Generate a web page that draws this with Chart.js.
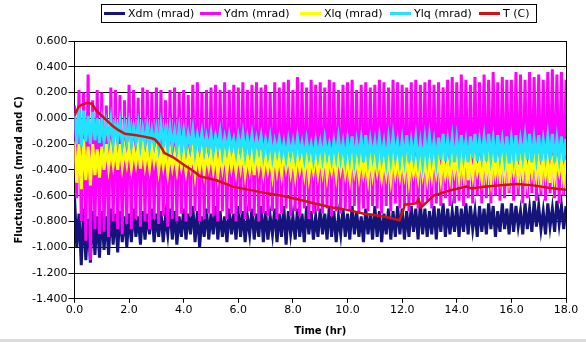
<!DOCTYPE html>
<html><head><meta charset="utf-8">
<script src="https://cdn.jsdelivr.net/npm/chart.js@4/dist/chart.umd.min.js"></script>
<style>
html,body{margin:0;padding:0;background:#dcdcdc;}
#wrap{width:586px;height:339px;background:#fff;}
canvas{display:block;}
</style></head><body>
<div id="wrap"><canvas id="c" width="586" height="339"></canvas></div>
<script>
// ---- data ----
const seriesNames = ['Xdm (mrad)', 'Ydm (mrad)', 'Xlq (mrad)', 'Ylq (mrad)', 'T (C)'];
const samplesPerHour = 12; // sample spacing of the oscillating series (5 min)

const xdm = [
 -0.60,-1.00,-0.74,-1.14,-0.70,-1.10,-0.78,-1.12,-0.72,-1.06,-0.76,-1.08,
 -0.72,-1.02,-0.76,-1.06,-0.70,-0.98,-0.74,-1.04,-0.72,-0.96,-0.76,-1.00,
 -0.74,-0.96,-0.70,-0.92,-0.76,-0.98,-0.72,-0.94,-0.74,-0.90,-0.70,-0.96,
 -0.74,-0.92,-0.72,-0.96,-0.76,-0.90,-0.70,-0.94,-0.72,-0.98,-0.76,-0.92,
 -0.70,-0.94,-0.74,-0.90,-0.68,-0.96,-0.72,-1.00,-0.76,-0.92,-0.70,-0.94,
 -0.74,-0.90,-0.68,-0.94,-0.72,-0.92,-0.76,-0.96,-0.70,-0.90,-0.74,-0.94,
 -0.68,-0.92,-0.72,-0.96,-0.76,-0.90,-0.70,-0.94,-0.74,-0.92,-0.68,-0.96,
 -0.72,-0.94,-0.76,-0.90,-0.70,-0.96,-0.74,-0.92,-0.68,-0.98,-0.72,-0.90,
 -0.76,-0.94,-0.70,-0.92,-0.74,-0.96,-0.68,-0.90,-0.72,-0.94,-0.76,-0.92,
 -0.70,-0.90,-0.74,-0.94,-0.68,-0.92,-0.72,-0.96,-0.76,-0.90,-0.70,-0.92,
 -0.74,-0.94,-0.68,-0.90,-0.72,-0.92,-0.76,-0.96,-0.70,-0.90,-0.74,-0.94,
 -0.68,-0.92,-0.72,-0.96,-0.74,-0.90,-0.70,-0.94,-0.72,-0.92,-0.68,-0.90,
 -0.70,-0.94,-0.72,-0.92,-0.68,-0.88,-0.70,-0.94,-0.66,-0.90,-0.70,-0.92,
 -0.72,-0.90,-0.68,-0.94,-0.70,-0.88,-0.66,-0.92,-0.70,-0.90,-0.72,-0.88,
 -0.68,-0.92,-0.70,-0.88,-0.66,-0.90,-0.68,-0.86,-0.72,-0.92,-0.68,-0.88,
 -0.70,-0.90,-0.66,-0.86,-0.68,-0.92,-0.72,-0.88,-0.66,-0.86,-0.70,-0.90,
 -0.66,-0.88,-0.68,-0.84,-0.72,-0.90,-0.66,-0.86,-0.70,-0.88,-0.64,-0.84,
 -0.68,-0.86,-0.72,-0.90,-0.66,-0.84,-0.70,-0.88,-0.64,-0.82,-0.68,-0.86,
 -0.68
];

const ydm = [
 0.10,-0.62,0.22,-0.80,0.20,-0.95,0.34,-1.10,0.14,-0.86,0.22,-0.90,
 0.20,-0.88,0.10,-0.92,0.24,-0.80,0.22,-0.86,0.18,-0.90,0.14,-0.82,
 0.26,-0.86,0.22,-0.78,0.16,-0.84,0.24,-0.80,0.22,-0.86,0.20,-0.78,
 0.24,-0.82,0.22,-0.76,0.14,-0.84,0.22,-0.78,0.24,-0.80,0.20,-0.74,
 0.22,-0.80,0.18,-0.76,0.26,-0.72,0.28,-0.80,0.20,-0.78,0.22,-0.74,
 0.24,-0.76,0.26,-0.80,0.22,-0.72,0.28,-0.78,0.22,-0.74,0.26,-0.80,
 0.24,-0.74,0.28,-0.78,0.22,-0.72,0.26,-0.76,0.28,-0.80,0.24,-0.74,
 0.26,-0.76,0.20,-0.72,0.28,-0.78,0.24,-0.74,0.28,-0.70,0.30,-0.76,
 0.22,-0.72,0.32,-0.76,0.28,-0.70,0.24,-0.78,0.30,-0.74,0.26,-0.72,
 0.28,-0.74,0.24,-0.70,0.30,-0.76,0.28,-0.72,0.22,-0.74,0.26,-0.70,
 0.28,-0.72,0.30,-0.68,0.22,-0.74,0.26,-0.70,0.28,-0.72,0.24,-0.68,
 0.26,-0.70,0.30,-0.74,0.28,-0.68,0.24,-0.72,0.30,-0.66,0.28,-0.70,
 0.26,-0.68,0.24,-0.72,0.28,-0.66,0.30,-0.70,0.26,-0.68,0.28,-0.64,
 0.30,-0.70,0.26,-0.66,0.28,-0.68,0.24,-0.62,0.30,-0.68,0.32,-0.66,
 0.28,-0.64,0.34,-0.68,0.30,-0.62,0.26,-0.66,0.32,-0.60,0.28,-0.66,
 0.34,-0.62,0.30,-0.66,0.36,-0.60,0.28,-0.64,0.32,-0.62,0.30,-0.58,
 0.30,-0.64,0.36,-0.60,0.34,-0.66,0.30,-0.62,0.36,-0.58,0.32,-0.64,
 0.34,-0.60,0.30,-0.64,0.36,-0.58,0.38,-0.62,0.34,-0.66,0.36,-0.60,
 0.30
];

const xlq = [
 -0.18,-0.50,-0.20,-0.55,-0.16,-0.48,-0.22,-0.52,-0.20,-0.44,-0.24,-0.46,
 -0.22,-0.40,-0.20,-0.38,-0.24,-0.36,-0.22,-0.40,-0.20,-0.37,-0.24,-0.35,
 -0.22,-0.38,-0.24,-0.35,-0.22,-0.39,-0.20,-0.36,-0.24,-0.38,-0.22,-0.34,
 -0.24,-0.40,-0.26,-0.37,-0.24,-0.42,-0.26,-0.38,-0.28,-0.40,-0.25,-0.37,
 -0.26,-0.41,-0.28,-0.38,-0.25,-0.43,-0.27,-0.39,-0.26,-0.42,-0.28,-0.38,
 -0.27,-0.40,-0.25,-0.44,-0.28,-0.39,-0.26,-0.42,-0.24,-0.38,-0.27,-0.41,
 -0.28,-0.39,-0.26,-0.43,-0.29,-0.40,-0.27,-0.44,-0.25,-0.39,-0.28,-0.42,
 -0.28,-0.40,-0.30,-0.44,-0.27,-0.41,-0.29,-0.43,-0.26,-0.39,-0.30,-0.42,
 -0.29,-0.44,-0.27,-0.40,-0.30,-0.43,-0.28,-0.45,-0.30,-0.41,-0.27,-0.43,
 -0.30,-0.42,-0.28,-0.45,-0.31,-0.41,-0.29,-0.44,-0.27,-0.40,-0.30,-0.43,
 -0.31,-0.46,-0.29,-0.42,-0.32,-0.45,-0.30,-0.43,-0.33,-0.47,-0.30,-0.44,
 -0.32,-0.42,-0.30,-0.46,-0.33,-0.44,-0.31,-0.47,-0.29,-0.43,-0.32,-0.45,
 -0.33,-0.44,-0.30,-0.48,-0.32,-0.43,-0.34,-0.46,-0.31,-0.44,-0.33,-0.47,
 -0.32,-0.45,-0.30,-0.43,-0.33,-0.47,-0.31,-0.44,-0.34,-0.46,-0.30,-0.42,
 -0.32,-0.46,-0.30,-0.44,-0.22,-0.48,-0.33,-0.45,-0.31,-0.42,-0.34,-0.47,
 -0.30,-0.44,-0.32,-0.48,-0.29,-0.43,-0.33,-0.46,-0.31,-0.44,-0.28,-0.47,
 -0.32,-0.42,-0.30,-0.46,-0.33,-0.44,-0.29,-0.48,-0.32,-0.43,-0.30,-0.45,
 -0.33,-0.47,-0.30,-0.44,-0.32,-0.50,-0.29,-0.46,-0.33,-0.42,-0.31,-0.48,
 -0.32
];

const ylq = [
 0.04,-0.20,0.08,-0.22,0.06,-0.18,0.02,-0.20,0.05,-0.17,0.00,-0.19,
 -0.02,-0.18,-0.04,-0.16,-0.01,-0.19,-0.05,-0.17,-0.03,-0.20,-0.06,-0.18,
 -0.04,-0.20,-0.07,-0.18,-0.05,-0.21,-0.08,-0.19,-0.06,-0.22,-0.09,-0.20,
 -0.08,-0.22,-0.05,-0.20,-0.09,-0.24,-0.07,-0.21,-0.10,-0.23,-0.08,-0.25,
 -0.10,-0.24,-0.12,-0.22,-0.09,-0.26,-0.13,-0.23,-0.11,-0.25,-0.14,-0.24,
 -0.12,-0.26,-0.14,-0.23,-0.11,-0.27,-0.15,-0.25,-0.13,-0.24,-0.16,-0.27,
 -0.14,-0.25,-0.12,-0.28,-0.15,-0.26,-0.13,-0.28,-0.16,-0.25,-0.14,-0.29,
 -0.17,-0.28,-0.15,-0.30,-0.18,-0.27,-0.16,-0.29,-0.19,-0.31,-0.17,-0.28,
 -0.18,-0.30,-0.15,-0.28,-0.19,-0.31,-0.17,-0.29,-0.20,-0.32,-0.18,-0.30,
 -0.19,-0.31,-0.16,-0.29,-0.20,-0.32,-0.18,-0.30,-0.15,-0.31,-0.19,-0.33,
 -0.17,-0.31,-0.14,-0.33,-0.18,-0.30,-0.16,-0.34,-0.13,-0.32,-0.17,-0.30,
 -0.18,-0.33,-0.15,-0.31,-0.19,-0.34,-0.16,-0.32,-0.14,-0.30,-0.18,-0.33,
 -0.17,-0.32,-0.13,-0.34,-0.18,-0.31,-0.15,-0.33,-0.19,-0.35,-0.16,-0.32,
 -0.14,-0.31,-0.18,-0.34,-0.15,-0.32,-0.12,-0.33,-0.17,-0.30,-0.15,-0.34,
 -0.16,-0.32,-0.13,-0.30,-0.18,-0.34,-0.14,-0.31,-0.12,-0.33,-0.17,-0.30,
 -0.15,-0.33,-0.12,-0.31,-0.16,-0.34,-0.13,-0.30,-0.17,-0.32,-0.14,-0.35,
 -0.16,-0.31,-0.13,-0.33,-0.17,-0.30,-0.14,-0.32,-0.12,-0.34,-0.16,-0.31,
 -0.13,-0.33,-0.17,-0.30,-0.14,-0.32,-0.12,-0.34,-0.16,-0.31,-0.14,-0.33,
 -0.16
];

const tempHours = [0, 0.15, 0.3, 0.5, 0.65, 0.8, 1.0, 1.2, 1.4, 1.6, 1.85, 2.2, 2.5, 2.83, 2.95, 3.1, 3.3, 3.6, 4.0, 4.3, 4.6, 5.2, 5.8, 6.4, 7.0, 7.6, 8.2, 8.8, 9.4, 10.0, 10.6, 11.3, 11.9, 12.0, 12.1, 12.5, 12.6, 12.7, 12.9, 13.15, 13.75, 14.35, 14.55, 15.0, 15.6, 16.2, 16.8, 17.4, 18.0];
const tempC = [0.02, 0.09, 0.11, 0.12, 0.11, 0.06, 0.02, -0.02, -0.06, -0.09, -0.12, -0.13, -0.14, -0.155, -0.165, -0.20, -0.27, -0.30, -0.36, -0.40, -0.45, -0.48, -0.53, -0.555, -0.58, -0.60, -0.63, -0.66, -0.69, -0.71, -0.74, -0.76, -0.79, -0.74, -0.67, -0.66, -0.63, -0.69, -0.65, -0.60, -0.56, -0.53, -0.545, -0.53, -0.52, -0.51, -0.52, -0.54, -0.555];

const yTickMin = -1.4, yTickMax = 0.6, yTickStep = 0.2;
const xTickMin = 0, xTickMax = 18, xTickStep = 2;

// ---- styles ----
const colors = ['#14147a', '#ff00ff', '#ffff00', '#22e2ff', '#d41010'];
const widths = [3, 3, 3, 3, 2.5];
const FONT = "'DejaVu Sans', Verdana, sans-serif";

const toPts = (vals) => vals.map((v, i) => ({ x: i / samplesPerHour, y: v }));
const tempPts = tempHours.map((h, i) => ({ x: h, y: tempC[i] }));
const allData = [toPts(xdm), toPts(ydm), toPts(xlq), toPts(ylq), tempPts];

const datasets = seriesNames.map((name, i) => ({
  label: name,
  data: allData[i],
  borderColor: colors[i],
  backgroundColor: colors[i],
  borderWidth: widths[i],
  pointRadius: 0,
  tension: 0,
  fill: false,
  order: 5 - i   // later series drawn on top, as in the original
}));

const legendStarts = [104, 200, 300, 390, 479];
const framePlugin = {
  id: 'frame',
  afterDatasetsDraw(chart) {
    const { ctx, chartArea: a } = chart;
    ctx.save();
    ctx.strokeStyle = '#000';
    ctx.lineWidth = 1;
    const xr = Math.round(a.right) + 0.5;
    ctx.beginPath();
    ctx.moveTo(xr, Math.round(a.top));
    ctx.lineTo(xr, Math.round(a.bottom) + 1);
    ctx.stroke();
    ctx.restore();
  },
  afterDraw(chart) {
    const ctx = chart.ctx;
    ctx.save();
    ctx.fillStyle = '#fff';
    ctx.fillRect(101, 4, 435, 18);
    ctx.strokeStyle = '#000';
    ctx.lineWidth = 1;
    ctx.strokeRect(101.5, 4.5, 435, 18);
    ctx.font = '11px ' + FONT;
    ctx.textBaseline = 'middle';
    ctx.fillStyle = '#000';
    chart.data.datasets.forEach((ds, i) => {
      const x0 = legendStarts[i];
      ctx.strokeStyle = ds.borderColor;
      ctx.lineWidth = 3;
      ctx.beginPath();
      ctx.moveTo(x0, 13.5);
      ctx.lineTo(x0 + 21, 13.5);
      ctx.stroke();
      ctx.fillText(ds.label, x0 + 24, 14);
    });
    ctx.restore();
  }
};

Chart.defaults.font.family = FONT;
Chart.defaults.font.size = 11;
Chart.defaults.color = '#000';

new Chart(document.getElementById('c'), {
  type: 'line',
  data: { datasets },
  options: {
    responsive: false,
    animation: false,
    devicePixelRatio: 1,
    layout: { padding: { top: 41, left: 13, right: 20, bottom: 2 } },
    plugins: { legend: { display: false }, tooltip: { enabled: false } },
    scales: {
      x: {
        type: 'linear',
        min: xTickMin, max: xTickMax,
        ticks: { stepSize: xTickStep, padding: 1, callback: v => Number(v).toFixed(1), maxRotation: 0 },
        grid: { drawOnChartArea: false, drawTicks: true, tickLength: 4, color: '#000' },
        border: { color: '#000' },
        title: { display: true, text: 'Time (hr)', font: { size: 10, weight: 'bold' }, padding: { top: 7, bottom: 0 } }
      },
      y: {
        min: yTickMin, max: yTickMax,
        ticks: { stepSize: yTickStep, padding: 1, callback: v => Number(v).toFixed(3) },
        grid: { color: '#000', tickLength: 6 },
        border: { color: '#000' },
        title: { display: true, text: 'Fluctuations (mrad and C)', font: { size: 10, weight: 'bold' }, padding: { top: 0, bottom: 6 } }
      }
    }
  },
  plugins: [framePlugin]
});
</script></body></html>
